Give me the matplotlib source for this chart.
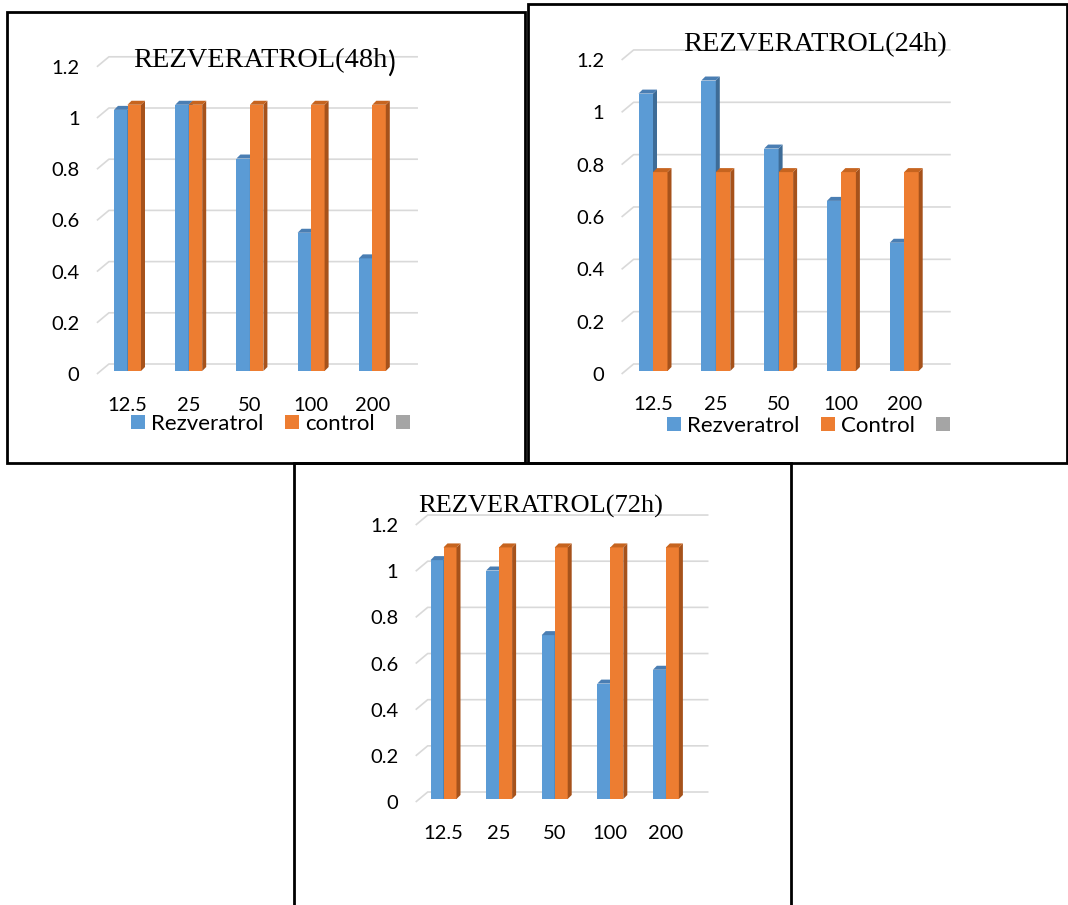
import matplotlib
matplotlib.use('Agg')
import matplotlib.pyplot as plt
from matplotlib.patches import Rectangle, Polygon, Patch
import numpy as np

# ---------------- data ----------------
categories = ['12.5', '25', '50', '100', '200']
y_ticks = [0, 0.2, 0.4, 0.6, 0.8, 1.0, 1.2]
y_tick_labels = ['0', '0.2', '0.4', '0.6', '0.8', '1', '1.2']

rez_48h = [1.02, 1.04, 0.83, 0.54, 0.44]
ctrl_48h = [1.04, 1.04, 1.04, 1.04, 1.04]

rez_24h = [1.06, 1.11, 0.85, 0.65, 0.49]
ctrl_24h = [0.76, 0.76, 0.76, 0.76, 0.76]

rez_72h = [1.035, 0.99, 0.71, 0.50, 0.56]
ctrl_72h = [1.09, 1.09, 1.09, 1.09, 1.09]

legend_48h = ['Rezveratrol', 'control', '']
legend_24h = ['Rezveratrol', 'Control', '']

# ---------------- style ----------------
W, H = 1068, 905
BLUE, BLUE_SIDE, BLUE_TOP = '#5B9BD5', '#3E6C97', '#4A7EB3'
ORANGE, ORANGE_SIDE, ORANGE_TOP = '#ED7D31', '#A6521B', '#C6641F'
GRAY = '#A5A5A5'
GRID = '#D9D9D9'
SANS = 'Lato'
SERIF = 'Liberation Serif'
TICK_FS = 14.5
LEG_FS = 16

fig = plt.figure(figsize=(W / 100, H / 100), dpi=100)
fig.patch.set_facecolor('white')


def px_rect(x0, y0, x1, y1):
    return [x0 / W, 1 - y1 / H, (x1 - x0) / W, (y1 - y0) / H]


def box(x0, y0, x1, y1):
    fig.add_artist(Rectangle((x0 / W, 1 - y1 / H), (x1 - x0) / W, (y1 - y0) / H,
                             transform=fig.transFigure, fill=False,
                             lw=2.0, ec='black', zorder=10))


def draw_chart(rez, ctrl, g, legend_labels=None):
    c0, sp, y0, k = g['c0'], g['sp'], g['y0'], g['k']
    xmax = 4.55
    left_px = c0 - 0.5 * sp
    right_px = c0 + xmax * sp
    top_px = y0 - k * 1.2
    ax = fig.add_axes(px_rect(left_px, top_px, right_px, y0))
    ax.set_xlim(-0.5, xmax)
    ax.set_ylim(0, 1.2)
    ax.set_facecolor('none')
    for s in ax.spines.values():
        s.set_visible(False)

    cpp = 1.0 / sp   # category units per pixel
    upp = 1.0 / k    # value units per pixel

    # back-wall gridlines with side-wall diagonal
    gdx, gdy = 12, 10
    for v in y_ticks:
        xs = [-0.5, -0.5 + gdx * cpp, xmax + gdx * cpp]
        ys = [v, v + gdy * upp, v + gdy * upp]
        ax.plot(xs, ys, color=GRID, lw=1.2, clip_on=False, zorder=1,
                solid_capstyle='butt')

    x = np.arange(len(categories))
    bw = g['bw'] * cpp
    shift = 3 * upp
    ddx, ddy = 4 * cpp, 4 * upp
    series = [(rez, -bw / 2, BLUE, BLUE_SIDE, BLUE_TOP),
              (ctrl, bw / 2, ORANGE, ORANGE_SIDE, ORANGE_TOP)]
    z = 3
    for vals, off, cf, cs, ct in series:
        bars = ax.bar(x + off, vals, width=bw, bottom=shift, color=cf,
                      lw=0, zorder=z)
        for b in bars:
            b.set_clip_on(False)
        for xc, v in zip(x + off, vals):
            xl, xr = xc - bw / 2, xc + bw / 2
            top = v + shift
            side = Polygon([(xr, shift), (xr, top), (xr + ddx, top + ddy),
                            (xr + ddx, shift + ddy)], closed=True,
                           fc=cs, lw=0, zorder=z, clip_on=False)
            tp = Polygon([(xl, top), (xr, top), (xr + ddx, top + ddy),
                          (xl + ddx, top + ddy)], closed=True,
                         fc=ct, lw=0, zorder=z, clip_on=False)
            ax.add_patch(side)
            ax.add_patch(tp)
        z += 1

    ax.set_yticks(y_ticks, y_tick_labels)
    ax.set_xticks(x, categories)
    ax.tick_params(axis='y', length=0, pad=12.5)
    ax.tick_params(axis='x', length=0, pad=g['xpad'])
    for lab in ax.get_xticklabels() + ax.get_yticklabels():
        lab.set_fontfamily(SANS)
        lab.set_fontsize(TICK_FS)
        lab.set_color('black')

    if legend_labels is not None:
        handles = [Patch(fc=BLUE, lw=0, label=legend_labels[0]),
                   Patch(fc=ORANGE, lw=0, label=legend_labels[1]),
                   Patch(fc=GRAY, lw=0, label=legend_labels[2])]
        ax.legend(handles=handles, ncol=3, frameon=False, loc='center left',
                  bbox_to_anchor=(g['leg'][0] / W, 1 - g['leg'][1] / H),
                  bbox_transform=fig.transFigure,
                  handlelength=0.62, handleheight=0.62, handletextpad=0.3,
                  columnspacing=0.95, borderpad=0, borderaxespad=0,
                  prop={'family': SANS, 'size': LEG_FS})
    return ax


# ---------------- boxes ----------------
box(7, 12, 525, 463)
box(528, 4, 1067, 463)
box(294, 463, 791, 915)

# ---------------- charts ----------------
g48 = dict(c0=127.5, sp=61.2, y0=374, k=256, bw=13.5, xpad=16.5, leg=(131, 424))
g24 = dict(c0=653, sp=62.8, y0=374, k=261.7, bw=14.5, xpad=16, leg=(667, 426))
g72 = dict(c0=443.5, sp=55.6, y0=802, k=230.8, bw=13.0, xpad=16.5, leg=None)

ax48 = draw_chart(rez_48h, ctrl_48h, g48, legend_48h)
draw_chart(rez_24h, ctrl_24h, g24, legend_24h)
draw_chart(rez_72h, ctrl_72h, g72, None)

# ---------------- titles ----------------
t48 = fig.text(133 / W, 1 - 67 / H, 'REZVERATROL(48h', family=SERIF,
               fontsize=20.4, va='baseline', ha='left', zorder=5)
ax48.annotate(')', xy=(1, 0), xycoords=t48, xytext=(-0.5, -2.5),
              textcoords='offset points', family=SANS, fontsize=21,
              va='bottom', ha='left', annotation_clip=False)
fig.text(683 / W, 1 - 51 / H, 'REZVERATROL(24h)', family=SERIF,
         fontsize=20.4, va='baseline', ha='left')
fig.text(418 / W, 1 - 513 / H, 'REZVERATROL(72h)', family=SERIF,
         fontsize=19.0, va='baseline', ha='left')

fig.savefig('out.png', dpi=100, facecolor='white')
